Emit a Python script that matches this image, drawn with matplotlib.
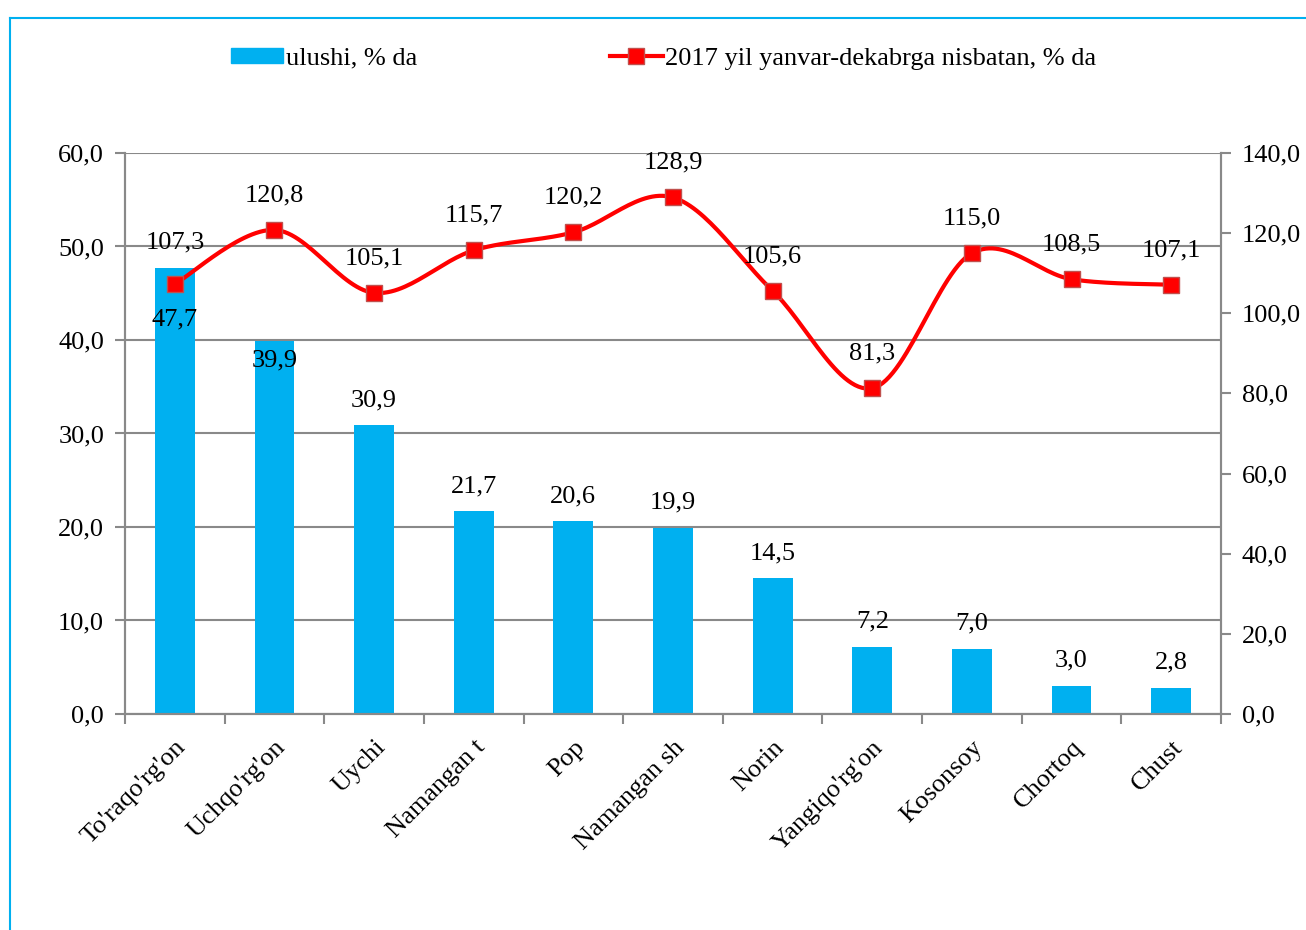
import numpy as np
import matplotlib
matplotlib.use("Agg")
from matplotlib import pyplot as plt
from matplotlib.lines import Line2D
from matplotlib.patches import Patch

plt.rcParams['font.family'] = ['Liberation Serif', 'DejaVu Serif']

cats = ["To'raqo'rg'on", "Uchqo'rg'on", "Uychi", "Namangan t", "Pop",
        "Namangan sh", "Norin", "Yangiqo'rg'on", "Kosonsoy", "Chortoq", "Chust"]
share = [47.7, 39.9, 30.9, 21.7, 20.6, 19.9, 14.5, 7.2, 7.0, 3.0, 2.8]
growth = [107.3, 120.8, 105.1, 115.7, 120.2, 128.9, 105.6, 81.3, 115.0, 108.5, 107.1]

label_bar = "ulushi, % da"
label_line = "2017 yil yanvar-dekabrga nisbatan, % da"

blue = "#00B0F0"
red = "#FF0000"
grid_c = "#898989"
fs = 19


def fmt(v):
    return f"{v:.1f}".replace('.', ',')


def smooth(xs, ys, n=30):
    # excel-like bezier smoothing (catmull-rom, tension 1/6)
    xs = np.asarray(xs, float)
    ys = np.asarray(ys, float)
    px, py = [], []
    m = len(xs)
    for i in range(m - 1):
        i0 = max(i - 1, 0)
        i3 = min(i + 2, m - 1)
        p0 = np.array([xs[i], ys[i]])
        p3 = np.array([xs[i + 1], ys[i + 1]])
        c1 = p0 + (p3 - np.array([xs[i0], ys[i0]])) / 6
        c2 = p3 - (np.array([xs[i3], ys[i3]]) - p0) / 6
        t = np.linspace(0, 1, n)[:, None]
        b = ((1 - t) ** 3 * p0 + 3 * (1 - t) ** 2 * t * c1
             + 3 * (1 - t) * t ** 2 * c2 + t ** 3 * p3)
        px.extend(b[:, 0])
        py.extend(b[:, 1])
    return px, py


fig = plt.figure(figsize=(13.06, 9.30), dpi=100)
ax = fig.add_axes([0.0957, 0.2323, 0.8392, 0.6032])
ax2 = ax.twinx()

x = np.arange(len(cats))
ax.bar(x, share, width=0.4, color=blue, zorder=2)
ax.set_xlim(-0.5, len(cats) - 0.5)
ax.set_ylim(0, 60)
ax.set_yticks(np.arange(0, 61, 10))
ax.set_yticklabels([fmt(v) for v in np.arange(0, 61, 10)], fontsize=fs)
ax.yaxis.grid(True, color=grid_c, lw=1.5, zorder=0)
ax.set_axisbelow(True)

ax.set_xticks(x)
ax.set_xticklabels(cats, rotation=45, ha='right', va='top',
                   rotation_mode='anchor', fontsize=fs)
ax.tick_params(axis='x', which='major', length=0, pad=16)
ax.set_xticks(np.arange(-0.5, len(cats), 1), minor=True)
ax.tick_params(axis='x', which='minor', length=7, color=grid_c, width=1.5)
ax.tick_params(axis='y', length=7, color=grid_c, width=1.5, pad=8)

for a in (ax, ax2):
    a.spines['top'].set_visible(False)
    for s in ('left', 'right', 'bottom'):
        a.spines[s].set_color(grid_c)
        a.spines[s].set_linewidth(1.5)

# bar labels: first two sit inside the bar top
bar_off = [-37, -14] + [18] * (len(share) - 2)
for i, v in enumerate(share):
    ax.annotate(fmt(v), (i, v), xytext=(0, bar_off[i]), textcoords='offset points',
                ha='center', va='center', fontsize=fs, zorder=5)

sx, sy = smooth(x, growth)
ax2.plot(sx, sy, color=red, lw=3, zorder=3, solid_capstyle='round')
ax2.plot(x, growth, ls='none', marker='s', ms=12, mfc=red, mec='#C0504D',
         mew=1, zorder=4)
ax2.set_ylim(0, 140)
ax2.set_yticks(np.arange(0, 141, 20))
ax2.set_yticklabels([fmt(v) for v in np.arange(0, 141, 20)], fontsize=fs)
ax2.tick_params(axis='y', length=7, color=grid_c, width=1.5, pad=8)
line_off = [30] + [25] * (len(growth) - 1)
for i, v in enumerate(growth):
    ax2.annotate(fmt(v), (i, v), xytext=(0, line_off[i]), textcoords='offset points',
                 ha='center', va='center', fontsize=fs, zorder=5)

handles = [Patch(color=blue),
           Line2D([], [], color=red, lw=3, marker='s', ms=12, mfc=red,
                  mec='#C0504D')]
fig.legend(handles, [label_bar, label_line], loc='center',
           bbox_to_anchor=(0.508, 0.937), ncol=2, frameon=False,
           fontsize=fs, handlelength=2.0, handleheight=0.5, handletextpad=0.1,
           columnspacing=7.3)

# outer frame (partially visible)
fig.add_artist(Line2D([10 / 1306, 10 / 1306], [0, 1 - 18 / 930],
                      transform=fig.transFigure, color=blue, lw=1.5))
fig.add_artist(Line2D([10 / 1306, 1], [1 - 18 / 930, 1 - 18 / 930],
                      transform=fig.transFigure, color=blue, lw=1.5))

fig.savefig("out.png", dpi=100)
